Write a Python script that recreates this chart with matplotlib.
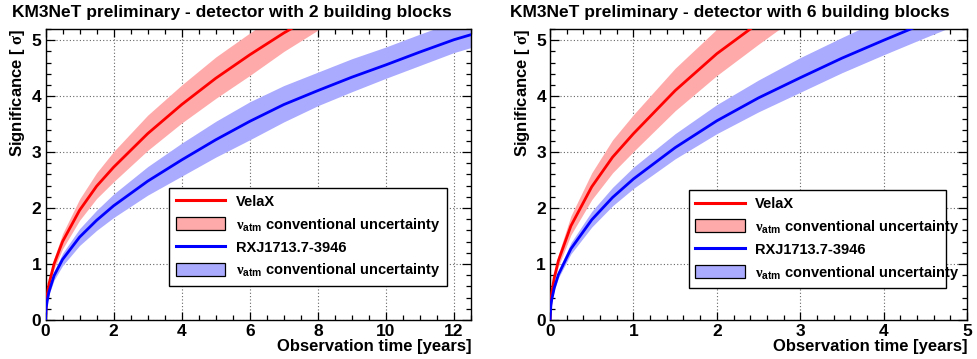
import matplotlib
matplotlib.use('Agg')
import matplotlib.pyplot as plt
from matplotlib.lines import Line2D
from matplotlib.patches import Patch
from matplotlib.ticker import MultipleLocator

plt.rcParams['font.family'] = ['Liberation Sans', 'DejaVu Sans']
plt.rcParams['font.weight'] = 'bold'
plt.rcParams['mathtext.fontset'] = 'custom'
plt.rcParams['mathtext.it'] = 'Liberation Serif'
plt.rcParams['mathtext.rm'] = 'Liberation Sans:bold'
plt.rcParams['mathtext.bf'] = 'Liberation Sans:bold'

# ---- data: 2 building blocks ----
t_vela_2bb = [0, 0.02, 0.05, 0.1, 0.25, 0.5, 1, 1.5, 2, 3, 4, 5, 6, 7, 8]
vela_2bb = [0, 0.30, 0.45, 0.64, 1.00, 1.40, 1.96, 2.39, 2.73, 3.33, 3.85, 4.32, 4.74, 5.13, 5.48]
vela_2bb_hi = [0, 0.33, 0.50, 0.71, 1.10, 1.54, 2.16, 2.63, 3.01, 3.66, 4.20, 4.70, 5.13, 5.55, 5.93]
vela_2bb_lo = [0, 0.27, 0.41, 0.58, 0.91, 1.27, 1.78, 2.17, 2.47, 3.03, 3.52, 3.96, 4.37, 4.80, 5.18]

t_rxj_2bb = [0, 0.02, 0.05, 0.1, 0.25, 0.5, 1, 1.5, 2, 3, 4, 5, 6, 7, 8, 9, 10, 11, 12, 12.5]
rxj_2bb = [0, 0.22, 0.34, 0.50, 0.79, 1.08, 1.48, 1.78, 2.04, 2.48, 2.86, 3.22, 3.55, 3.85,
           4.10, 4.34, 4.56, 4.79, 5.01, 5.10]
rxj_2bb_hi = [0, 0.25, 0.38, 0.55, 0.87, 1.19, 1.63, 1.96, 2.25, 2.74, 3.16, 3.55, 3.90, 4.19,
              4.43, 4.67, 4.88, 5.11, 5.33, 5.42]
rxj_2bb_lo = [0, 0.20, 0.31, 0.45, 0.71, 0.97, 1.33, 1.60, 1.83, 2.23, 2.57, 2.91, 3.22, 3.54,
              3.83, 4.08, 4.32, 4.55, 4.78, 4.87]

# ---- data: 6 building blocks ----
t_vela_6bb = [0, 0.01, 0.02, 0.05, 0.1, 0.25, 0.5, 0.75, 1, 1.5, 2, 2.5, 2.75]
vela_6bb = [0, 0.34, 0.48, 0.75, 1.06, 1.68, 2.38, 2.91, 3.33, 4.10, 4.76, 5.31, 5.57]
vela_6bb_hi = [0, 0.37, 0.53, 0.83, 1.17, 1.86, 2.63, 3.22, 3.67, 4.50, 5.20, 5.78, 6.05]
vela_6bb_lo = [0, 0.31, 0.44, 0.68, 0.96, 1.52, 2.15, 2.63, 3.01, 3.74, 4.37, 4.93, 5.20]

t_rxj_6bb = [0, 0.01, 0.02, 0.05, 0.1, 0.25, 0.5, 0.75, 1, 1.5, 2, 2.5, 3, 3.5, 4, 4.5, 5]
rxj_6bb = [0, 0.26, 0.36, 0.57, 0.81, 1.27, 1.79, 2.19, 2.52, 3.08, 3.56, 3.97, 4.33, 4.68,
           5.00, 5.31, 5.60]
rxj_6bb_hi = [0, 0.28, 0.39, 0.62, 0.88, 1.38, 1.94, 2.37, 2.73, 3.33, 3.85, 4.29, 4.69, 5.05,
              5.40, 5.73, 6.05]
rxj_6bb_lo = [0, 0.24, 0.33, 0.53, 0.75, 1.18, 1.66, 2.04, 2.35, 2.88, 3.33, 3.72, 4.07, 4.42,
              4.74, 5.05, 5.35]

titles = ['KM3NeT preliminary - detector with 2 building blocks',
          'KM3NeT preliminary - detector with 6 building blocks']
legend_labels = ['VelaX', r'$\nu_{\mathbf{atm}}$ conventional uncertainty',
                 'RXJ1713.7-3946', r'$\nu_{\mathbf{atm}}$ conventional uncertainty']

red, blue = '#ff0000', '#0000ff'
red_band, blue_band = '#ffaaaa', '#aaaaff'

fig = plt.figure(figsize=(9.77, 3.59), dpi=100, facecolor='white')

panels = [
    dict(rect=[0.0466, 0.109, 0.4355, 0.810], xmax=12.5, xmaj=2, xmin=0.5,
         leg=(0.291, 0.117, 0.653, 0.307), title_x=12 / 977,
         vela=(t_vela_2bb, vela_2bb, vela_2bb_lo, vela_2bb_hi),
         rxj=(t_rxj_2bb, rxj_2bb, rxj_2bb_lo, rxj_2bb_hi)),
    dict(rect=[0.5630, 0.109, 0.4268, 0.810], xmax=5, xmaj=1, xmin=0.2,
         leg=(0.333, 0.109, 0.617, 0.309), title_x=510 / 977,
         vela=(t_vela_6bb, vela_6bb, vela_6bb_lo, vela_6bb_hi),
         rxj=(t_rxj_6bb, rxj_6bb, rxj_6bb_lo, rxj_6bb_hi)),
]

for i, p in enumerate(panels):
    ax = fig.add_axes(p['rect'])
    tv, v, vlo, vhi = p['vela']
    tr, r, rlo, rhi = p['rxj']
    ax.fill_between(tv, vlo, vhi, color=red_band, lw=0, zorder=2)
    ax.fill_between(tr, rlo, rhi, color=blue_band, lw=0, zorder=2)
    ax.plot(tv, v, color=red, lw=2, zorder=3)
    ax.plot(tr, r, color=blue, lw=2, zorder=3)

    ax.set_xlim(0, p['xmax'])
    ax.set_ylim(0, 5.2)
    ax.xaxis.set_major_locator(MultipleLocator(p['xmaj']))
    ax.xaxis.set_minor_locator(MultipleLocator(p['xmin']))
    ax.yaxis.set_major_locator(MultipleLocator(1))
    ax.yaxis.set_minor_locator(MultipleLocator(0.2))
    ax.grid(True, which='major', color='#666666', lw=0.8, linestyle=(0, (1, 2)), zorder=1)
    ax.tick_params(which='both', direction='in', top=True, right=True, labelsize=12.5,
                   width=0.9, color='black')
    ax.tick_params(axis='x', which='major', length=6, pad=3)
    ax.tick_params(axis='x', which='minor', length=3.5)
    ax.tick_params(axis='y', which='major', length=6.5, pad=3)
    ax.tick_params(axis='y', which='minor', length=3.5)
    for lab in ax.get_xticklabels() + ax.get_yticklabels():
        lab.set_fontweight('bold')
    for s in ax.spines.values():
        s.set_linewidth(1.0)

    ax.set_xlabel('Observation time [years]', fontsize=12, fontweight='bold',
                  ha='right', x=1.0, labelpad=0)
    ax.set_ylabel(r'Significance [ $\sigma$]', fontsize=12, fontweight='bold',
                  ha='right', y=1.0, labelpad=3)

    handles = [Line2D([], [], color=red, lw=2.2),
               Patch(facecolor=red_band, edgecolor='black', lw=0.9),
               Line2D([], [], color=blue, lw=2.2),
               Patch(facecolor=blue_band, edgecolor='black', lw=0.9)]
    leg = ax.legend(handles, legend_labels, loc='lower left', bbox_to_anchor=p['leg'],
                    mode='expand', borderaxespad=0, fancybox=False, framealpha=1,
                    edgecolor='black', prop={'weight': 'bold', 'size': 10.5},
                    handlelength=3.4, handleheight=1.0, handletextpad=0.7,
                    labelspacing=0.45, borderpad=0.45)
    leg.get_frame().set_linewidth(1.0)
    leg.set_zorder(5)

    fig.text(p['title_x'], 1 - 13 / 359, titles[i], fontsize=12.5, fontweight='bold',
             ha='left', va='center')

fig.savefig('out.png', dpi=100, facecolor='white')
